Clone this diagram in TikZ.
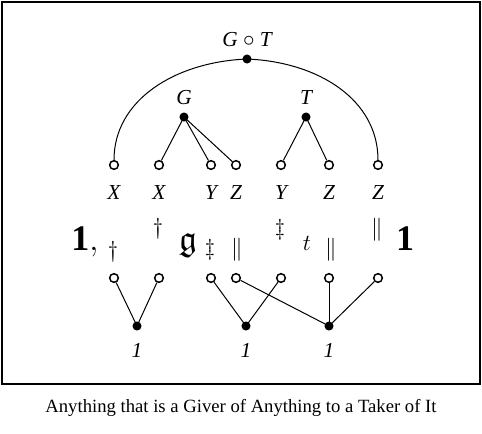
\documentclass[tikz,border=0pt]{standalone}
\usepackage{amssymb}
\usepackage{fontspec}
\setmainfont{Liberation Serif}

\tikzset{
  opendot/.style={circle,draw,line width=1.1pt,fill=white,inner sep=0pt,minimum size=6.5pt},
  fulldot/.style={circle,fill,inner sep=0pt,minimum size=6.8pt},
  wire/.style={line width=0.75pt},
  lbl/.style={font=\fontsize{16}{18}\selectfont\itshape},
  bigsym/.style={font=\fontsize{27}{30}\selectfont,inner sep=0pt,anchor=base},
  smallsym/.style={font=\fontsize{19}{21}\selectfont,inner sep=0pt}
}

\begin{document}
\begin{tikzpicture}[x=0.75pt,y=-0.75pt]
			\useasboundingbox (0,0) rectangle (482,433);
			\draw[line width=1.2pt] (2,2) rectangle (480,384);
			% top composite
			\node[fulldot] (gt) at (247,59) {};
			\node[lbl] (gtl) at (247,40) {G $\circ$ T};
			% giver and taker
			\node[fulldot] (g) at (184,117) {};
			\node[lbl] at (184,98) {G};
			\node[fulldot] (t) at (306,117) {};
			\node[lbl] at (306,98) {T};
			% upper ports
			\foreach \x/\n/\s in {114/1/X,159/2/X,211/3/Y,236/4/Z,281/5/Y,329/6/Z,378/7/Z}{
				\node[opendot] (u\n) at (\x,165) {};
				\node[lbl] at (\x,193) {\s};
				\node[opendot] (d\n) at (\x,278) {};
			}
			\draw[wire] (u1) .. controls (114,100) and (175,62) .. (gt.center);
			\draw[wire] (gt.center) .. controls (319,62) and (378,100) .. (u7);
			\draw[wire] (g.center) -- (u2);
			\draw[wire] (g.center) -- (u3);
			\draw[wire] (g.center) -- (u4);
			\draw[wire] (t.center) -- (u5);
			\draw[wire] (t.center) -- (u6);
			% middle line
			\node[bigsym] at (85,250) {$\mathbf{1},$};
			\node[smallsym] at (113,252) {$\dagger$};
			\node[smallsym] at (158,229) {$\dagger$};
			\node[bigsym] at (188,250) {$\mathfrak{g}$};
			\node[smallsym] at (210,250) {$\ddagger$};
			\node[smallsym] at (237,250) {$\|$};
			\node[smallsym] at (280,230) {$\ddagger$};
			\node[smallsym,anchor=base,font=\fontsize{18}{20}\selectfont] at (307,250) {$t$};
			\node[smallsym] at (331,250) {$\|$};
			\node[smallsym] at (377,230) {$\|$};
			\node[bigsym] at (405,250) {$\mathbf{1}$};
			% units
			\foreach \x/\n in {137/1,246/2,329/3}{
				\node[fulldot] (b\n) at (\x,326) {};
				\node[lbl] at (\x,350) {1};
			}
			\draw[wire] (d1) -- (b1.center);
			\draw[wire] (d2) -- (b1.center);
			\draw[wire] (d3) -- (b2.center);
			\draw[wire] (d5) -- (b2.center);
			\draw[wire] (d4) -- (b3.center);
			\draw[wire] (d6) -- (b3.center);
			\draw[wire] (d7) -- (b3.center);
			\node[font=\fontsize{14}{16}\selectfont] at (241,408) {Anything that is a Giver of Anything to a Taker of It};
		\end{tikzpicture}
\end{document}
